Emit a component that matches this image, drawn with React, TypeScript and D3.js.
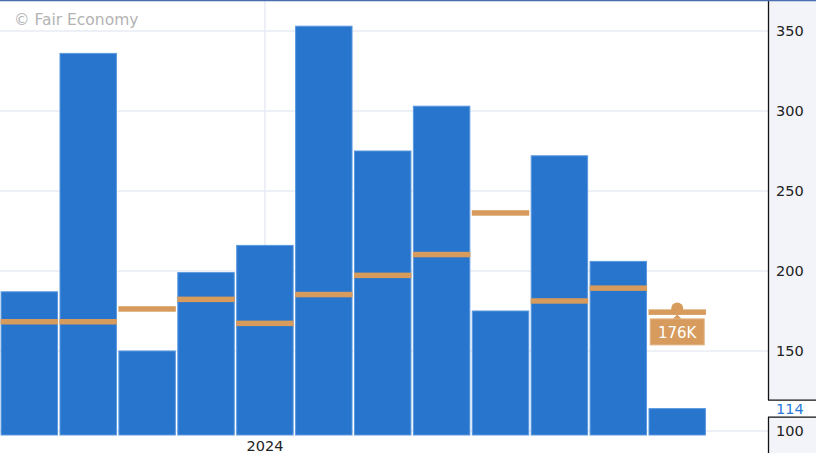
import React from "react";
import * as d3 from "d3";

const months = [
  "Aug 2023", "Sep 2023", "Oct 2023", "Nov 2023", "Dec 2023", "Jan 2024",
  "Feb 2024", "Mar 2024", "Apr 2024", "May 2024", "Jun 2024", "Jul 2024",
];
const actual = [187, 336, 150, 199, 216, 353, 275, 303, 175, 272, 206, 114];
const forecast = [170, 170, 178, 184, 169, 187, 199, 212, 238, 183, 191, 176];
const yTicks = [100, 150, 200, 250, 300, 350];
const xLabelIndex = 4;
const xLabelText = "2024";
const lastLabel = "176K";
const latestValueLabel = "114";
const watermark = "© Fair Economy";

const W = 816;
const H = 453;
const plotRight = 768;
const plotBottom = 435;
const FONT = "DejaVu Sans, Verdana, sans-serif";

export default function App() {
  const x = d3
    .scaleBand<string>()
    .domain(months)
    .range([0.6, 0.6 + 58.9 * 12 - 58.9 * 0.025])
    .paddingInner(0.025)
    .paddingOuter(0);
  const y = d3.scaleLinear().domain([100, 350]).range([431, 31]);
  const bw = x.bandwidth();
  const lastIdx = months.length - 1;
  const lx = (x(months[lastIdx]) as number) + bw / 2;
  const ly = y(forecast[lastIdx]);
  const gridX = (x(months[xLabelIndex]) as number) + bw / 2;
  const latestY = y(actual[lastIdx]);

  return (
    <svg
      width={W}
      height={H}
      style={{ position: "absolute", left: 0, top: 0, display: "block", background: "#fff" }}
      fontFamily={FONT}
    >
      {/* grid */}
      {yTicks.map((t) => (
        <line key={t} x1={0} x2={plotRight} y1={y(t)} y2={y(t)} stroke="#e8ebf4" strokeWidth={1.5} />
      ))}
      <line x1={gridX} x2={gridX} y1={0} y2={plotBottom} stroke="#e8ebf4" strokeWidth={1.5} />

      {/* watermark */}
      <text x={14} y={25} fontSize={15.5} fill="#b3b3b3">
        {watermark}
      </text>

      {/* bars */}
      {months.map((m, i) => (
        <rect
          key={m}
          x={(x(m) as number) + 0.5}
          y={y(actual[i])}
          width={bw - 1}
          height={plotBottom - y(actual[i])}
          fill="#2775cc"
          stroke="#5a98e0"
          strokeWidth={1}
        />
      ))}

      {/* forecast */}
      {months.map((m, i) => (
        <rect
          key={"f" + m}
          x={x(m) as number}
          y={y(forecast[i])}
          width={bw}
          height={5.5}
          fill="#d69b5d"
        />
      ))}

      {/* last forecast marker */}
      <circle cx={lx} cy={ly - 1} r={6} fill="#d69b5d" />
      <path d={`M${lx - 5},${ly + 10} L${lx},${ly + 5} L${lx + 5},${ly + 10} Z`} fill="#d69b5d" />
      <rect
        x={lx - 27}
        y={ly + 9.5}
        width={54}
        height={26}
        fill="#d69b5d"
        stroke="#e2b585"
        strokeWidth={1}
      />
      <text x={lx} y={ly + 28.5} fontSize={15} fill="#fff" textAnchor="middle">
        {lastLabel}
      </text>

      {/* x label */}
      <text x={gridX} y={451} fontSize={14.5} fill="#222" textAnchor="middle">
        {xLabelText}
      </text>

      {/* right axis panel */}
      <rect x={plotRight} y={0} width={W - plotRight} height={H} fill="#f3f4f9" />
      <rect x={plotRight} y={latestY - 8.5} width={W - plotRight} height={17} fill="#fff" />
      <line x1={plotRight + 0.5} x2={plotRight + 0.5} y1={0} y2={latestY - 8.5} stroke="#111" strokeWidth={1.3} />
      <line x1={plotRight + 0.5} x2={plotRight + 0.5} y1={latestY + 8.5} y2={H} stroke="#111" strokeWidth={1.3} />
      <line x1={plotRight} x2={W} y1={latestY - 8.5} y2={latestY - 8.5} stroke="#111" strokeWidth={1.3} />
      <line x1={plotRight} x2={W} y1={latestY + 8.5} y2={latestY + 8.5} stroke="#111" strokeWidth={1.3} />
      {yTicks.map((t) => (
        <text key={"t" + t} x={776} y={y(t) + 5} fontSize={14.5} fill="#222">
          {t}
        </text>
      ))}
      <text x={776} y={latestY + 5} fontSize={14.5} fill="#2a78d8">
        {latestValueLabel}
      </text>

      {/* top border */}
      <line x1={0} x2={W} y1={0.6} y2={0.6} stroke="#4a6db0" strokeWidth={1.3} />
    </svg>
  );
}
